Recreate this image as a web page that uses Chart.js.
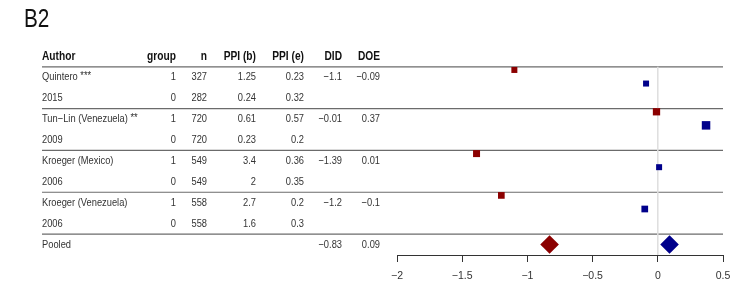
<!DOCTYPE html>
<html><head><meta charset="utf-8">
<script src="https://cdn.jsdelivr.net/npm/chart.js@4.4.1/dist/chart.umd.min.js"></script>
<style>html,body{margin:0;padding:0;background:#fff}#wrap{width:736px;height:288px;position:relative}</style>
</head><body><div id="wrap"><canvas id="c"></canvas></div>
<script>
// ---- data ----
const panelTitle = "B2";
const headers = ["Author", "group", "n", "PPI (b)", "PPI (e)", "DID", "DOE"];
const authors = ["Quintero", "Tun\u2212Lin (Venezuela)", "Kroeger (Mexico)", "Kroeger (Venezuela)"];
const stars = ["***", "**", "", ""];
const years = ["2015", "2009", "2006", "2006"];
const groupTreat = [1, 1, 1, 1];
const groupCtrl = [0, 0, 0, 0];
const nTreat = [327, 720, 549, 558];
const nCtrl = [282, 720, 549, 558];
const ppiBTreat = [1.25, 0.61, 3.4, 2.7];
const ppiBCtrl = [0.24, 0.23, 2, 1.6];
const ppiETreat = [0.23, 0.57, 0.36, 0.2];
const ppiECtrl = [0.32, 0.2, 0.35, 0.3];
const did = [-1.1, -0.01, -1.39, -1.2];
const doe = [-0.09, 0.37, 0.01, -0.1];
const pooledLabel = "Pooled";
const pooledDID = -0.83;
const pooledDOE = 0.09;
const xTicks = [-2, -1.5, -1, -0.5, 0, 0.5];

// ---- styles ----
const FONT = '"Liberation Sans Narrow","Arial Narrow","Liberation Sans",Arial,sans-serif';
const RED = '#8b0000', BLUE = '#00008b';
const redSide = [6, 7.3, 7, 6.7];
const blueSide = [6, 8.5, 6, 6.7];
const colRight = [176, 207, 256, 304, 342, 380];
const authorX = 42;
const BODY_SX = 0.81, HEAD_SX = 0.85, TITLE_SX = 0.83;

const fmt = v => String(v).replace('-', '\u2212');

function txt(ctx, s, x, y, align, sx) {
  ctx.save();
  ctx.translate(x, y);
  ctx.scale(sx, 1);
  ctx.textAlign = align;
  ctx.fillText(s, 0, 0);
  ctx.restore();
}

const tablePlugin = {
  id: 'table',
  beforeDatasetsDraw(chart) {
    const {ctx, scales: {x, y}} = chart;
    ctx.save();
    ctx.strokeStyle = '#6b6b6b';
    ctx.lineWidth = 1.2;
    for (let i = 0; i <= authors.length; i++) {
      const py = y.getPixelForValue(2 * i);
      ctx.beginPath(); ctx.moveTo(authorX, py); ctx.lineTo(x.right, py); ctx.stroke();
    }
    ctx.strokeStyle = '#dedede';
    ctx.lineWidth = 1.5;
    const x0 = x.getPixelForValue(0);
    ctx.beginPath(); ctx.moveTo(x0, y.getPixelForValue(0)); ctx.lineTo(x0, y.bottom); ctx.stroke();
    ctx.restore();
  },
  afterDraw(chart) {
    const {ctx, scales: {y}} = chart;
    ctx.save();
    // title
    ctx.fillStyle = '#111';
    ctx.font = '25px ' + FONT;
    ctx.textBaseline = 'alphabetic';
    txt(ctx, panelTitle, 24, 27, 'left', TITLE_SX);
    ctx.textBaseline = 'middle';
    // headers
    ctx.font = 'bold 12px ' + FONT;
    ctx.fillStyle = '#111';
    const hy = y.getPixelForValue(-0.5);
    txt(ctx, headers[0], authorX, hy, 'left', HEAD_SX);
    for (let c = 1; c < headers.length; c++) txt(ctx, headers[c], colRight[c - 1], hy, 'right', HEAD_SX);
    // body
    ctx.font = '11.5px ' + FONT;
    ctx.fillStyle = '#333';
    const row = (vals, yy) => {
      vals.forEach((v, k) => { if (v !== null && v !== undefined) txt(ctx, fmt(v), colRight[k], yy, 'right', BODY_SX); });
    };
    for (let i = 0; i < authors.length; i++) {
      const y1 = y.getPixelForValue(2 * i + 0.5);
      const y2 = y.getPixelForValue(2 * i + 1.5);
      txt(ctx, authors[i], authorX, y1, 'left', BODY_SX);
      if (stars[i]) {
        const w = ctx.measureText(authors[i] + ' ').width * BODY_SX;
        txt(ctx, stars[i], authorX + w, y1 - 1, 'left', BODY_SX);
      }
      txt(ctx, years[i], authorX, y2, 'left', BODY_SX);
      row([groupTreat[i], nTreat[i], ppiBTreat[i], ppiETreat[i], did[i], doe[i]], y1);
      row([groupCtrl[i], nCtrl[i], ppiBCtrl[i], ppiECtrl[i]], y2);
    }
    const yp = y.getPixelForValue(2 * authors.length + 0.5);
    txt(ctx, pooledLabel, authorX, yp, 'left', BODY_SX);
    row([null, null, null, null, pooledDID, pooledDOE], yp);
    ctx.restore();
  }
};

new Chart(document.getElementById('c'), {
  type: 'scatter',
  data: {
    datasets: [
      {
        data: did.map((v, i) => ({x: v, y: 2 * i + 0.15})),
        backgroundColor: RED, pointStyle: 'rect', pointBorderWidth: 0,
        pointRadius: redSide.map(s => s / Math.SQRT2)
      },
      {
        data: doe.map((v, i) => ({x: v, y: 2 * i + 0.8})),
        backgroundColor: BLUE, pointStyle: 'rect', pointBorderWidth: 0,
        pointRadius: blueSide.map(s => s / Math.SQRT2)
      },
      {
        data: [{x: pooledDID, y: 2 * authors.length + 0.5}],
        backgroundColor: RED, pointStyle: 'rectRot', pointBorderWidth: 0, pointRadius: 9.3
      },
      {
        data: [{x: pooledDOE, y: 2 * authors.length + 0.5}],
        backgroundColor: BLUE, pointStyle: 'rectRot', pointBorderWidth: 0, pointRadius: 9.3
      }
    ]
  },
  options: {
    responsive: true, maintainAspectRatio: false, animation: false,
    layout: {padding: {left: 397, right: 13, top: 25, bottom: 0}},
    plugins: {legend: {display: false}, tooltip: {enabled: false}, title: {display: false}},
    scales: {
      x: {
        type: 'linear', min: -2, max: 0.5,
        afterBuildTicks: s => { s.ticks = xTicks.map(v => ({value: v})); },
        afterFit: s => { s.height = 33; s.paddingLeft = 0; s.paddingRight = 0; },
        grid: {drawOnChartArea: false, drawTicks: true, tickLength: 7, color: '#333', tickWidth: 1},
        border: {display: true, color: '#333', width: 1},
        ticks: {padding: 8, color: '#333', font: {family: FONT, size: 10.5}, callback: v => fmt(v), maxRotation: 0, autoSkip: false}
      },
      y: {type: 'linear', min: -2, max: 9, reverse: true, display: false}
    }
  },
  plugins: [tablePlugin]
});
</script></body></html>
